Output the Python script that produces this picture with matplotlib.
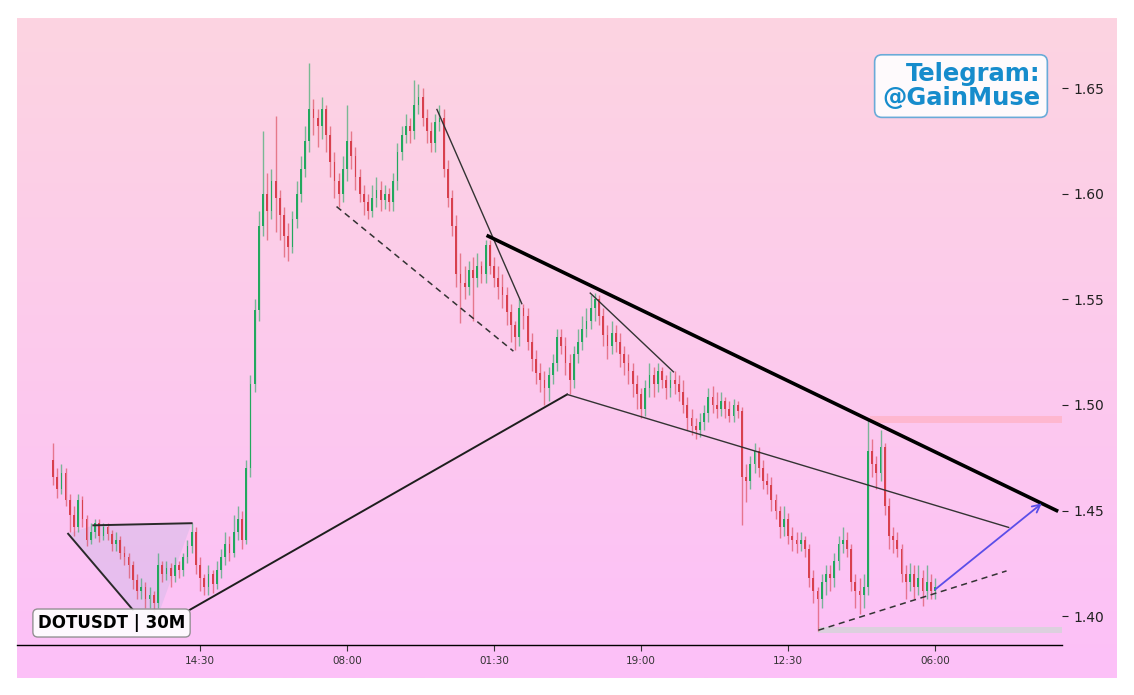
import matplotlib
matplotlib.use("Agg")
import matplotlib.pyplot as plt
import numpy as np
from matplotlib.colors import LinearSegmentedColormap
from matplotlib.patches import Polygon, Rectangle

# 30M candles, one value per bar
first_open = 1.474
closes = [
    1.466, 1.460, 1.468, 1.455, 1.448, 1.442, 1.455, 1.446, 1.436, 1.440,
    1.444, 1.438, 1.442, 1.439, 1.434, 1.436, 1.430, 1.428, 1.424, 1.417,
    1.412, 1.414, 1.408, 1.410, 1.406, 1.424, 1.420, 1.423, 1.419, 1.424,
    1.422, 1.428, 1.433, 1.440, 1.424, 1.418, 1.414, 1.420, 1.415, 1.422,
    1.428, 1.434, 1.430, 1.440, 1.446, 1.436, 1.470, 1.510, 1.545, 1.585,
    1.600, 1.592, 1.606, 1.598, 1.590, 1.580, 1.575, 1.588, 1.600, 1.612,
    1.625, 1.640, 1.636, 1.632, 1.640, 1.628, 1.615, 1.606, 1.600, 1.612,
    1.625, 1.618, 1.608, 1.600, 1.596, 1.592, 1.598, 1.602, 1.597, 1.600,
    1.596, 1.606, 1.620, 1.628, 1.632, 1.630, 1.642, 1.646, 1.636, 1.630,
    1.624, 1.634, 1.636, 1.612, 1.598, 1.585, 1.562, 1.558, 1.556, 1.564,
    1.560, 1.566, 1.562, 1.576, 1.566, 1.560, 1.556, 1.552, 1.544, 1.538,
    1.532, 1.546, 1.542, 1.530, 1.522, 1.515, 1.512, 1.508, 1.514, 1.520,
    1.532, 1.528, 1.520, 1.512, 1.524, 1.530, 1.536, 1.540, 1.546, 1.550,
    1.542, 1.533, 1.528, 1.534, 1.530, 1.524, 1.520, 1.516, 1.510, 1.505,
    1.498, 1.508, 1.514, 1.510, 1.516, 1.512, 1.508, 1.512, 1.510, 1.506,
    1.500, 1.494, 1.490, 1.488, 1.492, 1.496, 1.504, 1.500, 1.498, 1.502,
    1.498, 1.495, 1.500, 1.497, 1.466, 1.464, 1.472, 1.478, 1.470, 1.464,
    1.462, 1.455, 1.450, 1.442, 1.446, 1.438, 1.436, 1.434, 1.436, 1.432,
    1.418, 1.412, 1.408, 1.416, 1.420, 1.418, 1.426, 1.434, 1.436, 1.432,
    1.416, 1.412, 1.410, 1.414, 1.478, 1.472, 1.468, 1.480, 1.452, 1.438,
    1.436, 1.432, 1.420, 1.416, 1.420, 1.414, 1.418, 1.412, 1.416, 1.412,
    1.414,
]
highs = [
    1.482, 1.470, 1.472, 1.470, 1.458, 1.452, 1.458, 1.457, 1.448, 1.444,
    1.446, 1.446, 1.444, 1.444, 1.441, 1.440, 1.438, 1.433, 1.430, 1.426,
    1.420, 1.418, 1.416, 1.414, 1.412, 1.430, 1.426, 1.426, 1.425, 1.428,
    1.426, 1.430, 1.436, 1.444, 1.442, 1.428, 1.420, 1.424, 1.422, 1.426,
    1.432, 1.440, 1.438, 1.448, 1.452, 1.450, 1.474, 1.514, 1.550, 1.592,
    1.630, 1.610, 1.612, 1.637, 1.602, 1.594, 1.586, 1.592, 1.606, 1.618,
    1.632, 1.662, 1.645, 1.640, 1.646, 1.642, 1.632, 1.620, 1.610, 1.618,
    1.642, 1.630, 1.622, 1.612, 1.604, 1.600, 1.604, 1.608, 1.606, 1.604,
    1.603, 1.610, 1.624, 1.632, 1.638, 1.636, 1.654, 1.652, 1.650, 1.640,
    1.634, 1.638, 1.642, 1.640, 1.616, 1.602, 1.590, 1.572, 1.566, 1.568,
    1.570, 1.572, 1.568, 1.578, 1.578, 1.570, 1.566, 1.562, 1.556, 1.548,
    1.540, 1.550, 1.548, 1.546, 1.534, 1.526, 1.520, 1.516, 1.518, 1.524,
    1.536, 1.536, 1.532, 1.524, 1.528, 1.536, 1.542, 1.546, 1.552, 1.553,
    1.552, 1.546, 1.538, 1.540, 1.538, 1.534, 1.528, 1.524, 1.520, 1.514,
    1.508, 1.512, 1.520, 1.518, 1.520, 1.518, 1.514, 1.516, 1.516, 1.514,
    1.512, 1.504, 1.498, 1.494, 1.496, 1.500, 1.508, 1.509, 1.506, 1.506,
    1.504, 1.502, 1.503, 1.502, 1.499, 1.472, 1.476, 1.482, 1.480, 1.474,
    1.468, 1.466, 1.458, 1.452, 1.452, 1.449, 1.442, 1.440, 1.440, 1.438,
    1.434, 1.422, 1.414, 1.420, 1.424, 1.424, 1.430, 1.438, 1.442, 1.440,
    1.434, 1.420, 1.418, 1.420, 1.493, 1.484, 1.476, 1.488, 1.482, 1.456,
    1.442, 1.440, 1.434, 1.424, 1.425, 1.424, 1.424, 1.422, 1.424, 1.420,
    1.418,
]
lows = [
    1.462, 1.456, 1.458, 1.452, 1.440, 1.438, 1.440, 1.442, 1.433, 1.434,
    1.437, 1.435, 1.436, 1.436, 1.431, 1.431, 1.427, 1.424, 1.418, 1.413,
    1.408, 1.408, 1.404, 1.404, 1.402, 1.404, 1.416, 1.417, 1.414, 1.416,
    1.418, 1.419, 1.425, 1.430, 1.420, 1.412, 1.410, 1.410, 1.411, 1.413,
    1.418, 1.424, 1.426, 1.428, 1.436, 1.432, 1.434, 1.466, 1.506, 1.540,
    1.580, 1.578, 1.588, 1.582, 1.578, 1.570, 1.568, 1.572, 1.584, 1.596,
    1.608, 1.620, 1.628, 1.622, 1.626, 1.620, 1.608, 1.598, 1.594, 1.596,
    1.606, 1.612, 1.602, 1.596, 1.590, 1.588, 1.589, 1.594, 1.592, 1.593,
    1.592, 1.592, 1.602, 1.616, 1.624, 1.624, 1.626, 1.638, 1.632, 1.624,
    1.620, 1.620, 1.630, 1.608, 1.594, 1.580, 1.556, 1.539, 1.550, 1.552,
    1.540, 1.556, 1.558, 1.558, 1.562, 1.556, 1.550, 1.546, 1.538, 1.530,
    1.526, 1.528, 1.536, 1.526, 1.516, 1.510, 1.506, 1.500, 1.502, 1.510,
    1.516, 1.524, 1.514, 1.505, 1.508, 1.520, 1.526, 1.532, 1.536, 1.540,
    1.538, 1.528, 1.522, 1.524, 1.525, 1.518, 1.514, 1.510, 1.504, 1.498,
    1.494, 1.495, 1.504, 1.504, 1.506, 1.508, 1.503, 1.504, 1.505, 1.502,
    1.496, 1.488, 1.486, 1.484, 1.485, 1.488, 1.492, 1.496, 1.494, 1.495,
    1.494, 1.492, 1.492, 1.494, 1.443, 1.454, 1.460, 1.468, 1.466, 1.460,
    1.458, 1.450, 1.446, 1.437, 1.438, 1.434, 1.431, 1.430, 1.431, 1.428,
    1.414, 1.406, 1.393, 1.404, 1.410, 1.412, 1.414, 1.422, 1.430, 1.428,
    1.412, 1.404, 1.401, 1.404, 1.410, 1.466, 1.460, 1.464, 1.448, 1.432,
    1.430, 1.428, 1.416, 1.408, 1.412, 1.408, 1.410, 1.405, 1.408, 1.408,
    1.408,
]
tick_pos = [35, 70, 105, 140, 175, 210]
tick_labels = ["14:30", "08:00", "01:30", "19:00", "12:30", "06:00"]
y_ticks = [1.40, 1.45, 1.50, 1.55, 1.60, 1.65]

# drawn annotations (bar index, price)
tri_fill = [(3.6, 1.439), (9.6, 1.443), (33.0, 1.444), (23.5, 1.392)]
tri_left = [(3.6, 1.439), (19.0, 1.403)]
tri_top = [(9.6, 1.443), (33.0, 1.444)]
rise_line = [(32.6, 1.403), (122.4, 1.505)]
fall_line = [(122.4, 1.505), (227.5, 1.442)]
main_res = [(103.6, 1.580), (238.9, 1.450)]
leg1 = [(91.4, 1.640), (111.6, 1.548)]
leg1_dash = [(67.5, 1.594), (109.6, 1.5255)]
leg2 = [(127.9, 1.553), (147.7, 1.5157)]
support_dash = [(182.2, 1.3933), (227.0, 1.4214)]
target_arrow = [(210.0, 1.4126), (235.4, 1.4534)]
res_zone = (194.5, 1.4915, 1.495)
sup_zone = (182.0, 1.392, 1.3948)

GREEN = "#22a85e"
RED = "#d8404e"

W, H = 1134, 695
fig = plt.figure(figsize=(W / 100, H / 100), dpi=100, facecolor="white")

# gradient backdrop
bg = fig.add_axes([17 / W, (H - 678) / H, 1100 / W, 660 / H], zorder=0)
cmap = LinearSegmentedColormap.from_list("pk", ["#fdd4e1", "#fcc0f8"])
bg.imshow(np.linspace(0, 1, 256).reshape(-1, 1), aspect="auto", cmap=cmap,
          extent=[0, 1, 0, 1], origin="upper")
bg.axis("off")

ax = fig.add_axes([17 / W, (H - 645) / H, (1062 - 17) / W, (645 - 17) / H], zorder=1)
ax.patch.set_alpha(0)

n = len(closes)
x = np.arange(n)
c = np.array(closes)
o = np.concatenate([[first_open], c[:-1]])
hi = np.array(highs)
lo = np.array(lows)
up = c >= o
cols = np.where(up, GREEN, RED)

ax.vlines(x, lo, hi, colors=cols, lw=1.0, alpha=0.6, zorder=2)
ax.bar(x, np.maximum(np.abs(c - o), 0.0006), bottom=np.minimum(o, c),
       width=0.42, color=cols, lw=0, zorder=3)

# zones
ax.add_patch(Rectangle((res_zone[0], res_zone[1]), 300, res_zone[2] - res_zone[1],
                       color="#ffb3c8", alpha=0.8, lw=0, zorder=1))
ax.add_patch(Rectangle((sup_zone[0], sup_zone[1]), 300, sup_zone[2] - sup_zone[1],
                       color="#d9d2dc", alpha=0.9, lw=0, zorder=1))

# left pattern
ax.add_patch(Polygon(tri_fill, closed=True, fc="#c9b8e6", ec="none", alpha=0.4, zorder=1))


def seg(pts, **kw):
    (x0, y0), (x1, y1) = pts
    ax.plot([x0, x1], [y0, y1], **kw)


seg(tri_left, color="#2a2a2a", lw=1.4, zorder=4)
seg(tri_top, color="#2a2a2a", lw=1.4, zorder=4)
seg(rise_line, color="#1e1e1e", lw=1.4, zorder=4)
seg(fall_line, color="#333333", lw=1.0, zorder=4)
seg(main_res, color="black", lw=2.6, zorder=5)
seg(leg1, color="#333333", lw=1.0, zorder=4)
seg(leg1_dash, color="#333333", lw=1.1, ls=(0, (4, 3)), zorder=4)
seg(leg2, color="#333333", lw=1.0, zorder=4)
seg(support_dash, color="#333333", lw=1.1, ls=(0, (4, 3)), zorder=4)

ax.annotate("", xy=target_arrow[1], xytext=target_arrow[0],
            arrowprops=dict(arrowstyle="->", color="#5b4ee8", lw=1.3,
                            mutation_scale=14, shrinkA=0, shrinkB=0), zorder=6)

ax.set_xlim(-8.57, 240.2)
ax.set_ylim(1.3863, 1.6838)
for s in ("left", "right", "top"):
    ax.spines[s].set_visible(False)
ax.spines["bottom"].set_linewidth(1.0)

ax.yaxis.tick_right()
ax.set_yticks(y_ticks)
ax.set_yticklabels([f"{v:.2f}" for v in y_ticks])
ax.tick_params(axis="y", length=4, width=0.8, labelsize=10, colors="#222222", pad=4)
ax.set_xticks(tick_pos)
ax.set_xticklabels(tick_labels)
ax.tick_params(axis="x", length=4, width=0.8, labelsize=7.5, colors="#333333", pad=4)

ax.text(0.02, 0.035, "DOTUSDT | 30M", transform=ax.transAxes, fontsize=12,
        fontweight="bold", color="black", ha="left", va="center", zorder=8,
        bbox=dict(boxstyle="round,pad=0.3", fc="white", ec="#888888", alpha=0.9, lw=1))

ax.text(0.979, 0.89, "Telegram:\n@GainMuse", transform=ax.transAxes, fontsize=17.5,
        fontweight="bold", color="#168ccc", ha="right", va="center", zorder=8,
        linespacing=1.0,
        bbox=dict(boxstyle="round,pad=0.3", fc="white", ec="#5aa5d6", alpha=0.9, lw=1.2))

fig.savefig("out.png", dpi=100, facecolor="white")
